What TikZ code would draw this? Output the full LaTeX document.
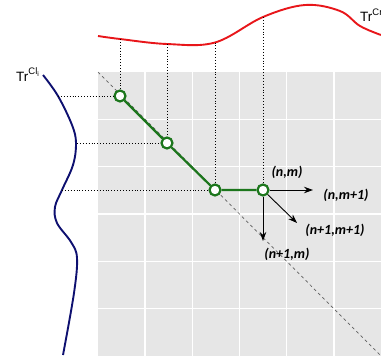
\documentclass[tikz,border=0pt]{standalone}
\usepackage{amsmath}
\usepackage{fontspec}
\setmainfont{Liberation Sans}
\newfontfamily\cellfont{Carlito}
\usepackage{tikz}
\usetikzlibrary{arrows.meta,positioning,calc}
\definecolor{pathgreen}{RGB}{28,118,28}
\definecolor{curvered}{RGB}{232,22,26}
\definecolor{curveblue}{RGB}{14,16,112}
\definecolor{gridgray}{RGB}{230,230,230}

\tikzset{
  cell/.style={circle, draw=pathgreen, line width=2.2pt, fill=white, minimum size=11pt, inner sep=0pt},
  proj/.style={dotted, line width=0.9pt},
  move/.style={-{Stealth[length=9pt,width=6.5pt]}, line width=0.9pt},
  idx/.style={font=\cellfont\bfseries\itshape\fontsize{14}{16}\selectfont, inner sep=0pt},
  trace/.style={font=\fontsize{13.5}{16}\selectfont, inner sep=0pt, anchor=base west}
}

\begin{document}
\begin{tikzpicture}[x=1pt,y=-1pt]
  \useasboundingbox (0,0) rectangle (381,362);

  % cost grid
  \fill[gridgray] (98,72) rectangle (381,356);
  \foreach \k in {1,...,5} {
    \draw[white, line width=1.6pt] ({98+\k*47.17},72) -- ({98+\k*47.17},356);
    \draw[white, line width=1.6pt] (98,{72+\k*47.33}) -- (381,{72+\k*47.33});
  }
  \draw[dashed, gray!75!black, line width=0.7pt] (98,72) -- (381,356);

  % the two signals
  \draw[curvered, line width=1.9pt] plot[smooth, tension=0.6] coordinates
    {(98,36) (120,39) (167,44) (215,42.5) (263,17) (305,5) (340,11) (360,26) (381,35)};
  \draw[curveblue, line width=1.9pt] plot[smooth, tension=0.6] coordinates
    {(43,75) (58,96) (72,125) (76,143) (73,165) (62,190) (55,207) (57,223) (71,242) (77,258) (74,293) (63,355)};
  \node[trace] (trr) at (360,21.5) {$\text{Tr}^{\text{Cr}_{\text{j}}}$};
  \node[trace] (trl) at (16,81) {$\text{Tr}^{\text{Cl}_{\text{i}}}$};

  \coordinate (r1) at (120,39);
  \coordinate (r2) at (167,44);
  \coordinate (r3) at (215,42.5);
  \coordinate (r4) at (263,17);
  \coordinate (l1) at (58,96);
  \coordinate (l2) at (77,143);
  \coordinate (l3) at (62,190);

  % warping path
  \node[cell] (p1) at (120,96) {};
  \node[cell] (p2) at (167,143) {};
  \node[cell] (p3) at (215,190) {};
  \node[cell] (p4) at (263,190) {};

  \draw[proj] (r1) -- (p1);
  \draw[proj] (r2) -- (p2);
  \draw[proj] (r3) -- (p3);
  \draw[proj] (r4) -- (p4);
  \draw[proj] (l1) -- (p1);
  \draw[proj] (l2) -- (p2);
  \draw[proj] (l3) -- (p3);

  \draw[pathgreen, line width=2.2pt] (p1) -- (p2) -- (p3) -- (p4);

  % next steps
  \coordinate (s1) at (313,190);
  \coordinate (s2) at (297,223);
  \coordinate (s3) at (263,241);
  \draw[move] (p4) -- (s1);
  \draw[move] (p4) -- (s2);
  \draw[move] (p4) -- (s3);

  \node[idx] (nm) at (287,172) {(n,m)};
  \node[idx] (nm1) at (346,195) {(n,m+1)};
  \node[idx] (n1m1) at (335,230) {(n+1,m+1)};
  \node[idx] (n1m) at (287,254) {(n+1,m)};
\end{tikzpicture}
\end{document}
